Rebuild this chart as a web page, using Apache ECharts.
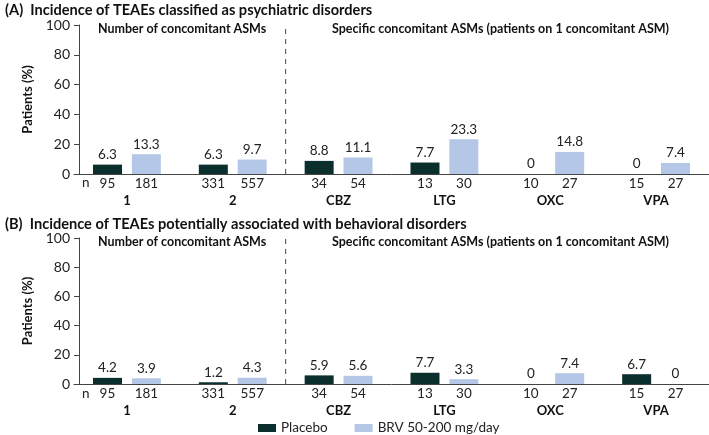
<!DOCTYPE html>
<html>
<head>
<meta charset="utf-8">
<script src="https://cdn.jsdelivr.net/npm/echarts@6/dist/echarts.min.js"></script>
<style>
  html, body { margin: 0; padding: 0; background: #fff; }
  #chart { width: 709px; height: 435px; }
</style>
</head>
<body>
<div id="chart"></div>
<script>
  var categories = ['1', '2', 'CBZ', 'LTG', 'OXC', 'VPA'];
  var nPlacebo = [95, 331, 34, 13, 10, 15];
  var nBrv = [181, 557, 54, 30, 27, 27];
  // (A) psychiatric disorders
  var psychPlacebo = [6.3, 6.3, 8.8, 7.7, 0, 0];
  var psychBrv = [13.3, 9.7, 11.1, 23.3, 14.8, 7.4];
  // (B) behavioral disorders
  var behavPlacebo = [4.2, 1.2, 5.9, 7.7, 0, 6.7];
  var behavBrv = [3.9, 4.3, 5.6, 3.3, 7.4, 0];
  var yTicks = [0, 20, 40, 60, 80, 100];
  // divider between "number of ASMs" and "specific ASMs" groups (category boundary)
  var dividerAt = 2;

  var FONT = 'Lato';
  var DARK = '#0b2f2c';
  var LIGHT = '#b4c7e7';

  var myChart = echarts.init(document.getElementById('chart'));

  function makeX(gridIndex) {
    return {
      type: 'category',
      gridIndex: gridIndex,
      data: categories,
      axisLine: { lineStyle: { color: '#444', width: 1 } },
      axisTick: { show: false },
      axisLabel: {
        margin: 2,
        interval: 0,
        fontFamily: FONT,
        formatter: function (v, i) {
          return '{n|' + nPlacebo[i] + '}{n|' + nBrv[i] + '}\n{c|' + v + '}';
        },
        rich: {
          n: { width: 39, align: 'center', fontSize: 13.5, color: '#222', fontFamily: FONT, lineHeight: 16 },
          c: { fontSize: 13, fontWeight: 'bold', color: '#111', fontFamily: FONT, lineHeight: 18 }
        }
      }
    };
  }

  // hidden value axis used only to place the dashed divider
  function makeHiddenX(gridIndex) {
    return { type: 'value', gridIndex: gridIndex, min: 0, max: categories.length, show: false };
  }

  function makeY(gridIndex) {
    return {
      type: 'value',
      gridIndex: gridIndex,
      min: yTicks[0],
      max: yTicks[yTicks.length - 1],
      interval: 20,
      offset: -5,
      name: 'Patients (%)',
      nameLocation: 'middle',
      nameGap: 44,
      nameTextStyle: { fontFamily: FONT, fontSize: 13, fontWeight: 'bold', color: '#111' },
      axisLine: { show: true, lineStyle: { color: '#444' } },
      axisTick: { show: true, length: 5, lineStyle: { color: '#444' } },
      splitLine: { show: false },
      axisLabel: { fontFamily: FONT, fontSize: 14, color: '#222', margin: 9 }
    };
  }

  function makeBar(name, data, color, idx) {
    return {
      name: name,
      type: 'bar',
      xAxisIndex: idx,
      yAxisIndex: idx,
      data: data,
      barWidth: 29,
      barGap: '34%',
      itemStyle: { color: color },
      label: {
        show: true,
        position: 'top',
        distance: 3,
        fontFamily: FONT,
        fontSize: 13.5,
        color: '#222'
      }
    };
  }

  function makeDivider(xIdx, yIdx) {
    return {
      type: 'line',
      xAxisIndex: xIdx,
      yAxisIndex: yIdx,
      data: [[dividerAt, yTicks[0]], [dividerAt, yTicks[yTicks.length - 1]]],
      symbol: 'none',
      silent: true,
      lineStyle: { color: '#444', width: 1, type: [5, 5] }
    };
  }

  var titleStyle = { fontFamily: FONT, fontSize: 14.6, fontWeight: 'bold', color: '#111' };
  var headStyle = { fontFamily: FONT, fontSize: 12.5, fontWeight: 'bold', color: '#111' };

  var option = {
    animation: false,
    textStyle: { fontFamily: FONT },
    title: [
      { text: '(A)  Incidence of TEAEs classified as psychiatric disorders', left: 0, top: -2, textStyle: titleStyle },
      { text: 'Number of concomitant ASMs', left: 93, top: 17, textStyle: headStyle },
      { text: 'Specific concomitant ASMs (patients on 1 concomitant ASM)', left: 327, top: 17, textStyle: headStyle },
      { text: '(B)  Incidence of TEAEs potentially associated with behavioral disorders', left: 0, top: 212, textStyle: titleStyle },
      { text: 'Number of concomitant ASMs', left: 93, top: 230, textStyle: headStyle },
      { text: 'Specific concomitant ASMs (patients on 1 concomitant ASM)', left: 327, top: 230, textStyle: headStyle }
    ],
    legend: {
      left: 253,
      top: 416,
      itemWidth: 18,
      itemHeight: 8,
      itemGap: 27,
      textStyle: { fontFamily: FONT, fontSize: 13.5, color: '#222' },
      data: [
        { name: 'Placebo', icon: 'rect' },
        { name: 'BRV 50-200 mg/day', icon: 'rect' }
      ]
    },
    grid: [
      { left: 74, right: 0, top: 25, height: 149 },
      { left: 74, right: 0, top: 238, height: 146 }
    ],
    xAxis: [makeX(0), makeX(1), makeHiddenX(0), makeHiddenX(1)],
    yAxis: [makeY(0), makeY(1)],
    graphic: [
      { type: 'text', left: 82, top: 176, style: { text: 'n', fontFamily: FONT, fontSize: 13.5, fill: '#222' } },
      { type: 'text', left: 82, top: 387, style: { text: 'n', fontFamily: FONT, fontSize: 13.5, fill: '#222' } }
    ],
    series: [
      makeBar('Placebo', psychPlacebo, DARK, 0),
      makeBar('BRV 50-200 mg/day', psychBrv, LIGHT, 0),
      makeBar('Placebo', behavPlacebo, DARK, 1),
      makeBar('BRV 50-200 mg/day', behavBrv, LIGHT, 1),
      makeDivider(2, 0),
      makeDivider(3, 1)
    ]
  };

  myChart.setOption(option);
</script>
</body>
</html>
